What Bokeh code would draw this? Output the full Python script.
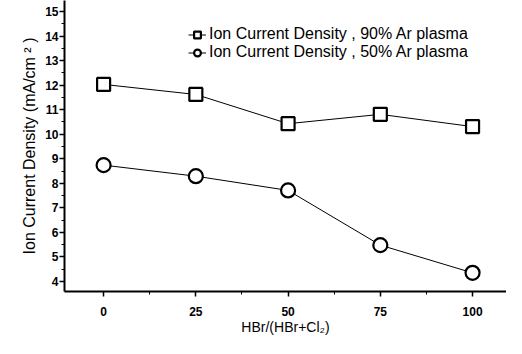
from bokeh.plotting import figure
from bokeh.models import Range1d, Legend, LegendItem, FixedTicker
from bokeh.embed import file_html
from bokeh.resources import INLINE

x = [0, 25, 50, 75, 100]
ar90 = [12.03, 11.62, 10.43, 10.81, 10.31]
ar50 = [8.74, 8.29, 7.71, 5.48, 4.35]
x_ticks = [0, 25, 50, 75, 100]
y_ticks = [4, 5, 6, 7, 8, 9, 10, 11, 12, 13, 14, 15]
labels = ["Ion Current Density , 90% Ar plasma", "Ion Current Density , 50% Ar plasma"]

FONT = "Liberation Sans"

p = figure(width=506, height=338, output_backend="svg", toolbar_location=None,
           x_range=Range1d(-10.6, 109.2), y_range=Range1d(3.59, 15.45),
           min_border_left=64, min_border_right=0, min_border_top=0, min_border_bottom=47)
p.outline_line_color = None
p.grid.visible = False
p.background_fill_color = "white"

l1 = p.line(x, ar90, line_color="black", line_width=1)
s1 = p.scatter(x, ar90, marker="square", size=13, fill_color="white", line_color="black", line_width=2.2)
l2 = p.line(x, ar50, line_color="black", line_width=1)
s2 = p.scatter(x, ar50, marker="circle", size=14, fill_color="white", line_color="black", line_width=2.2)

leg = Legend(items=[LegendItem(label=labels[0], renderers=[l1, s1]),
                    LegendItem(label=labels[1], renderers=[l2, s2])],
             location=(124, 230), orientation="vertical",
             border_line_color=None, background_fill_alpha=0,
             padding=0, spacing=0, margin=0, glyph_width=18, glyph_height=17,
             label_height=17, label_standoff=3,
             label_text_font=FONT, label_text_font_size="16px", label_text_color="black")
p.add_layout(leg)

p.xaxis.ticker = FixedTicker(ticks=x_ticks, minor_ticks=[12.5, 37.5, 62.5, 87.5])
p.yaxis.ticker = FixedTicker(ticks=y_ticks, minor_ticks=[v + 0.5 for v in range(3, 15)])

for ax in (p.xaxis[0], p.yaxis[0]):
    ax.axis_line_width = 2
    ax.axis_line_color = "black"
    ax.major_tick_line_width = 1.5
    ax.major_tick_out = 5
    ax.major_tick_in = 0
    ax.minor_tick_out = 3
    ax.minor_tick_in = 0
    ax.major_label_text_font = FONT
    ax.major_label_text_font_size = "12px"
    ax.major_label_text_font_style = "bold"
    ax.major_label_text_color = "black"
    ax.axis_label_text_font = FONT
    ax.axis_label_text_font_style = "normal"
    ax.axis_label_text_color = "black"

p.xaxis.axis_label = "HBr/(HBr+Cl\u2082)"
p.yaxis.axis_label = "Ion Current Density (mA/cm \u00b2 )"
p.xaxis.axis_label_text_font_size = "14px"
p.yaxis.axis_label_text_font_size = "16px"
p.xaxis.major_label_standoff = 10
p.xaxis.axis_label_standoff = 0
p.yaxis.major_label_standoff = 1
p.yaxis.axis_label_standoff = 4

open("out.html", "w").write(file_html(p, INLINE))
